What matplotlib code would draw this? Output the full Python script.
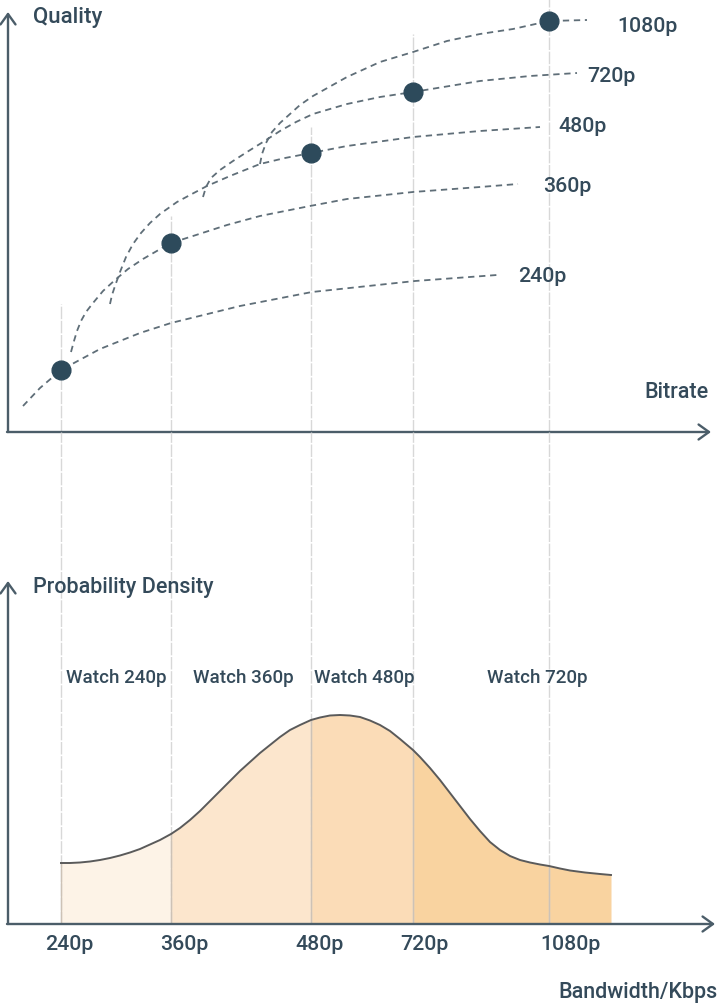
import matplotlib
matplotlib.use("Agg")
import matplotlib.pyplot as plt
import numpy as np

# ---------------- data ----------------
resolutions = ["240p", "360p", "480p", "720p", "1080p"]
res_x = [53, 163, 303, 405, 541]          # bitrate / bandwidth positions
dot_q = [62, 189, 279, 340, 411]          # quality at operating point
guide_top = [128, 216, 305, 398, 433]     # top of vertical guide lines (quality units)

curve_240_x = [15, 32, 53, 92, 132, 163, 232, 304, 407, 489]
curve_240_q = [26, 44, 62, 83, 99, 109, 126, 140, 151, 157]
curve_360_x = [63, 66, 69, 73, 78, 85, 95, 107, 120, 135, 154, 163, 185, 219, 252, 302, 339, 405, 472, 510]
curve_360_q = [80, 91, 101, 111, 120, 129, 141, 152, 163, 173, 184, 189, 196, 207, 216, 226, 233, 240, 245, 248]
curve_480_x = [102, 104, 107, 112, 118, 125, 133, 142, 152, 169, 182, 199, 222, 252, 277, 303, 339, 405, 472, 532]
curve_480_q = [128, 137, 146, 160, 175, 188, 199, 209, 218, 230, 237, 246, 256, 268, 274, 279, 286, 295, 301, 305]
curve_720_x = [195, 198, 203, 212, 225, 239, 255, 272, 288, 305, 339, 372, 405, 472, 522, 569]
curve_720_q = [235, 245, 254, 262, 271, 280, 290, 301, 310, 318, 328, 335, 340, 351, 356, 359]
curve_1080_x = [252, 254, 258, 264, 272, 282, 292, 305, 339, 372, 405, 439, 472, 505, 541, 579]
curve_1080_q = [268, 278, 289, 300, 309, 318, 327, 336, 355, 370, 380, 391, 398, 403, 411, 412]

density_x = [53, 62, 72, 82, 92, 102, 112, 122, 132, 142, 152, 163, 172, 182, 192, 202, 212,
             222, 232, 242, 252, 262, 272, 282, 292, 303, 312, 322, 332, 342, 352, 362, 372,
             382, 392, 405, 412, 422, 432, 442, 452, 462, 472, 482, 492, 502, 512, 522, 532,
             541, 552, 562, 577, 592, 603]
density_y = [61, 61, 61.5, 62.5, 64, 66, 68.5, 71.5, 75, 79.5, 84, 90, 96, 104, 113, 123, 133,
             143, 153, 162, 171, 179, 187, 194, 199, 204, 206.5, 208.5, 209, 208.5, 207, 203.5, 199,
             193, 185, 174, 167, 156, 144, 131, 118, 105, 93, 82, 74, 68, 64, 61.5, 59.5,
             58, 55.5, 53.5, 51.5, 50, 49]

watch_labels = ["Watch 240p", "Watch 360p", "Watch 480p", "Watch 720p"]
fill_colors = ["#fdf3e7", "#fce6cd", "#fbdcb7", "#f9d3a0"]

# ---------------- style ----------------
TXT = "#344a5a"
AXC = "#4b5d69"
DASH = "#5f6e78"
DOT = "#2d4a5b"
GUIDE = "#d8d8d8"
plt.rcParams["font.family"] = ["Roboto", "DejaVu Sans"]

W, H = 720, 1004
fig = plt.figure(figsize=(W / 100, H / 100), dpi=100)

def fpx(x, y):
    return x / W, 1 - y / H

# top axes: origin at pixel (8, 433)
ax1 = fig.add_axes([8 / W, 1 - 433 / H, 712 / W, 433 / H])
ax1.set_xlim(0, 712)
ax1.set_ylim(0, 433)
# bottom axes: origin at pixel (8, 925)
ax2 = fig.add_axes([8 / W, 1 - 925 / H, 712 / W, (925 - 433) / H])
ax2.set_xlim(0, 712)
ax2.set_ylim(0, 492)
for ax in (ax1, ax2):
    ax.axis("off")

# guide lines
for x, top in zip(res_x, guide_top):
    ax1.plot([x, x], [0, top], color=GUIDE, lw=1.0, ls=(0, (9, 1.2)), zorder=1, clip_on=False)
    ax2.plot([x, x], [0, 492], color=GUIDE, lw=1.0, ls=(0, (9, 1.2)), zorder=1, clip_on=False)

# quality curves
curves = [(curve_240_x, curve_240_q), (curve_360_x, curve_360_q), (curve_480_x, curve_480_q),
          (curve_720_x, curve_720_q), (curve_1080_x, curve_1080_q)]
for cx, cq in curves:
    ax1.plot(cx, cq, color=DASH, lw=1.3, ls=(0, (3.5, 2.6)), zorder=2, clip_on=False,
             solid_joinstyle="round")
ax1.plot(res_x, dot_q, "o", color=DOT, ms=13.5, zorder=3, clip_on=False)

# density fills
dx = np.array(density_x)
dy = np.array(density_y)
bounds = res_x[:4] + [density_x[-1]]
for i in range(4):
    m = (dx >= bounds[i]) & (dx <= bounds[i + 1])
    ax2.fill_between(dx[m], 0, dy[m], color=fill_colors[i], lw=0, zorder=0.5)
# guides over fills
for x in res_x:
    top = dy[list(dx).index(x)]
    ax2.plot([x, x], [0, top], color="#cdc2b6", lw=1.0, zorder=1.5)
ax2.plot(dx, dy, color="#5a5a5a", lw=1.4, zorder=2, solid_joinstyle="round")

# axes arrows
arrow = dict(arrowstyle="->,head_length=0.5,head_width=0.36", lw=1.7, color=AXC,
             mutation_scale=15, shrinkA=0, shrinkB=0)
ax1.annotate("", xy=(0, 420), xytext=(0, 0), arrowprops=arrow, annotation_clip=False)
ax1.annotate("", xy=(703, 0), xytext=(-1, 0), arrowprops=arrow, annotation_clip=False)
ax2.annotate("", xy=(0, 343), xytext=(0, 0), arrowprops=arrow, annotation_clip=False)
ax2.annotate("", xy=(707, 0), xytext=(-1, 0), arrowprops=arrow, annotation_clip=False)

# texts
def t(x, y, s, size=15.5, ha="left", va="center"):
    fig.text(*fpx(x, y), s, fontsize=size, color=TXT, ha=ha, va=va, fontweight="medium")

t(33, 18, "Quality", size=16)
t(709, 393, "Bitrate", ha="right")
label_pos = [(518, 276), (543, 187), (558, 127), (587, 76), (617, 26)]
for (x, y), s in zip(label_pos, resolutions):
    t(x, y, s, size=15.3)
t(33, 588, "Probability Density")
for x, s in zip([66, 193, 314, 487], watch_labels):
    t(x, 678, s, size=13.5)
for x, s in zip([45, 160, 295, 400, 540], resolutions):
    t(x, 944, s, size=15.3)
t(718, 993, "Bandwidth/Kbps")  if False else t(718, 993, "Bandwidth/Kbps", ha="right")

fig.savefig("out.png", dpi=100)
